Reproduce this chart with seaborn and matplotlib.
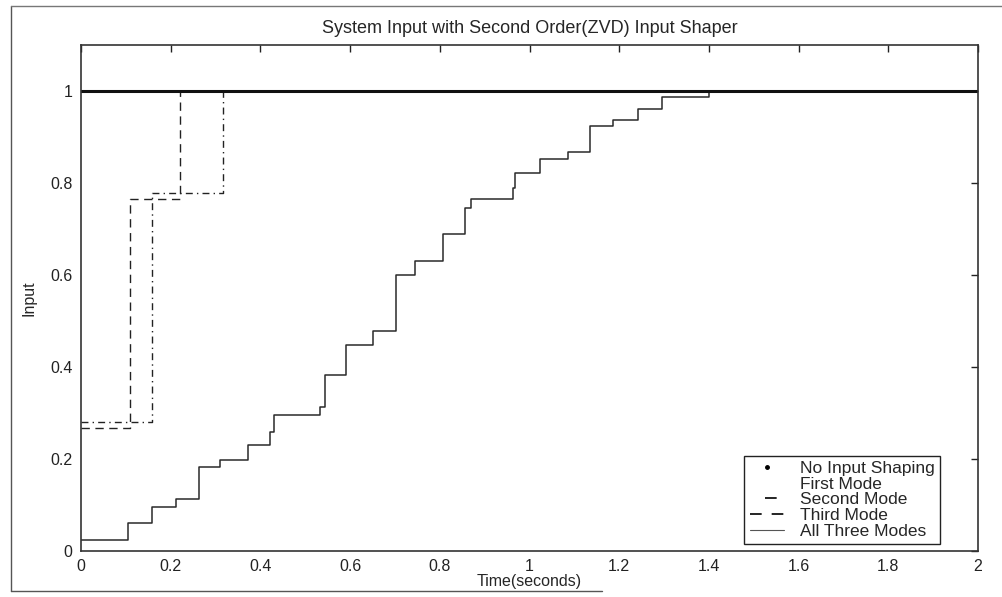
import pandas as pd
import matplotlib.pyplot as plt
import seaborn as sns
from matplotlib.lines import Line2D

# 数据
x_ticks = [0, 0.2, 0.4, 0.6, 0.8, 1.0, 1.2, 1.4, 1.6, 1.8, 2.0]
x_tick_labels = ['0', '0.2', '0.4', '0.6', '0.8', '1', '1.2', '1.4', '1.6', '1.8', '2']
y_ticks = [0, 0.2, 0.4, 0.6, 0.8, 1.0]
y_tick_labels = ['0', '0.2', '0.4', '0.6', '0.8', '1']

no_shaping_t = [0, 2.0]
no_shaping_v = [1.0, 1.0]

second_t = [0, 0.158, 0.317, 2.0]
second_v = [0.280, 0.778, 1.0, 1.0]

third_t = [0, 0.109, 0.221, 2.0]
third_v = [0.267, 0.766, 1.0, 1.0]

all_t = [0, 0.105, 0.158, 0.212, 0.263, 0.310, 0.373, 0.421, 0.430, 0.533,
         0.544, 0.590, 0.651, 0.702, 0.745, 0.807, 0.857, 0.870, 0.963, 0.968,
         1.024, 1.086, 1.135, 1.186, 1.242, 1.295, 1.400, 2.0]
all_v = [0.024, 0.061, 0.096, 0.114, 0.183, 0.197, 0.230, 0.259, 0.295, 0.312,
         0.382, 0.447, 0.478, 0.600, 0.631, 0.690, 0.746, 0.765, 0.790, 0.822,
         0.853, 0.868, 0.925, 0.937, 0.960, 0.987, 1.0, 1.0]

legend_labels = ['No Input Shaping', 'First Mode', 'Second Mode', 'Third Mode', 'All Three Modes']

sns.set_style('white')
plt.rcParams['font.family'] = ['Liberation Sans', 'DejaVu Sans']

fig = plt.figure(figsize=(10.03, 5.97), dpi=100)
ax = fig.add_axes([0.0808, 0.0771, 0.8943, 0.8475])

df_all = pd.DataFrame({'t': all_t, 'v': all_v})
df_second = pd.DataFrame({'t': second_t, 'v': second_v})
df_third = pd.DataFrame({'t': third_t, 'v': third_v})
df_none = pd.DataFrame({'t': no_shaping_t, 'v': no_shaping_v})

common = dict(x='t', y='v', ax=ax, estimator=None, sort=False, drawstyle='steps-post')
sns.lineplot(data=df_all, color='#2a2a2a', lw=1.1, **common)
sns.lineplot(data=df_third, color='#222222', lw=1.0, linestyle=(0, (6, 4)), **common)
sns.lineplot(data=df_second, color='#222222', lw=1.0, linestyle=(0, (5, 3, 1, 3)), **common)
sns.lineplot(data=df_none, color='#111111', lw=2.2, **common)

ax.set_xlim(0, 2)
ax.set_ylim(0, 1.1)
ax.set_xticks(x_ticks)
ax.set_xticklabels(x_tick_labels)
ax.set_yticks(y_ticks)
ax.set_yticklabels(y_tick_labels)
ax.tick_params(direction='in', length=5, width=1, top=True, right=True,
               labelsize=11.5, colors='#222222', pad=6)
for s in ax.spines.values():
    s.set_visible(True)
    s.set_color('#333333')
    s.set_linewidth(1.2)

ax.set_title('System Input with Second Order(ZVD) Input Shaper', fontsize=13, pad=9)
ax.set_xlabel('Time(seconds)', fontsize=11.5, labelpad=0)
ax.set_ylabel('Input', fontsize=11.5, labelpad=10)

# 图例（仿照原图样式）
handles = [
    Line2D([], [], color='black', marker='.', markersize=5, linestyle='none'),
    Line2D([], [], color='white', lw=0),
    Line2D([], [], color='black', lw=1.2, linestyle=(20, (7, 22))),
    Line2D([], [], color='black', lw=1.2, linestyle=(0, (7, 6))),
    Line2D([], [], color='#555555', lw=0.8),
]
leg = ax.legend(handles, legend_labels, loc='lower right',
                bbox_to_anchor=(0.9576, 0.0138), borderaxespad=0,
                fontsize=12.5, frameon=True, fancybox=False, framealpha=1,
                edgecolor='#222222', handlelength=2.0, handletextpad=0.9,
                labelspacing=0.03, borderpad=0.3)
leg.get_frame().set_linewidth(1.0)

# 外框（扫描边界）
fig.add_artist(Line2D([0.011, 0.011], [0.01, 0.99], color='#555555', lw=1, transform=fig.transFigure))
fig.add_artist(Line2D([0.011, 1.0], [0.99, 0.99], color='#777777', lw=1, transform=fig.transFigure))
fig.add_artist(Line2D([0.011, 0.6], [0.01, 0.01], color='#555555', lw=1, transform=fig.transFigure))

plt.savefig('out.png', dpi=100)
